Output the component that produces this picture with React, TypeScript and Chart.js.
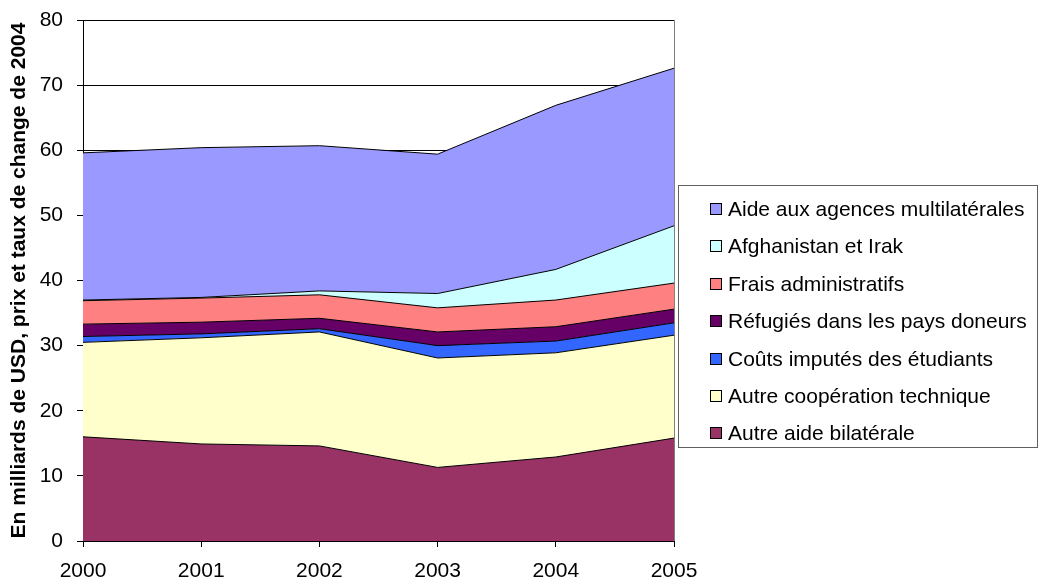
import React, { useEffect, useRef } from "react";
import { Chart, registerables } from "chart.js";

Chart.register(...registerables);

const years = ["2000", "2001", "2002", "2003", "2004", "2005"];
const autreAideBilaterale = [16.0, 14.9, 14.6, 11.3, 12.9, 15.8];
const autreCooperationTechnique = [14.5, 16.3, 17.5, 16.8, 16.0, 15.8];
const coutsImputesEtudiants = [0.9, 0.6, 0.5, 1.9, 1.8, 1.9];
const refugies = [1.9, 1.8, 1.6, 2.1, 2.2, 2.1];
const fraisAdministratifs = [3.6, 3.7, 3.6, 3.7, 4.1, 4.0];
const afghanistanIrak = [0.1, 0.1, 0.6, 2.2, 4.7, 8.8];
const aideMultilaterale = [22.6, 23.0, 22.3, 21.4, 25.2, 24.2];

const yTicks = [0, 10, 20, 30, 40, 50, 60, 70, 80];

const series = [
  { label: "Autre aide bilatérale", data: autreAideBilaterale, color: "#993366" },
  { label: "Autre coopération technique", data: autreCooperationTechnique, color: "#FFFFCC" },
  { label: "Coûts imputés des étudiants", data: coutsImputesEtudiants, color: "#3366FF" },
  { label: "Réfugiés dans les pays doneurs", data: refugies, color: "#660066" },
  { label: "Frais administratifs", data: fraisAdministratifs, color: "#FF8080" },
  { label: "Afghanistan et Irak", data: afghanistanIrak, color: "#CCFFFF" },
  { label: "Aide aux agences multilatérales", data: aideMultilaterale, color: "#9999FF" },
];

const FONT = "'Liberation Sans', Arial, sans-serif";

const borderPlugin = {
  id: "plotBorder",
  afterDatasetsDraw(chart: any) {
    const { ctx, chartArea } = chart;
    ctx.save();
    ctx.strokeStyle = "#808080";
    ctx.lineWidth = 1;
    ctx.beginPath();
    ctx.moveTo(Math.round(chartArea.right) + 0.5, chartArea.top);
    ctx.lineTo(Math.round(chartArea.right) + 0.5, chartArea.bottom);
    ctx.stroke();
    ctx.restore();
  },
};

export default function App() {
  const ref = useRef<HTMLCanvasElement>(null);

  useEffect(() => {
    if (!ref.current) return;
    const chart = new Chart(ref.current, {
      type: "line",
      data: {
        labels: years,
        datasets: series.map((s, i) => ({
          label: s.label,
          data: s.data,
          backgroundColor: s.color,
          borderColor: "#000000",
          borderWidth: 1,
          pointRadius: 0,
          pointHoverRadius: 0,
          tension: 0,
          fill: i === 0 ? "origin" : "-1",
        })),
      },
      plugins: [borderPlugin],
      options: {
        animation: false,
        responsive: false,
        maintainAspectRatio: false,
        layout: { padding: { left: 0, right: 368, top: 20, bottom: 0 } },
        plugins: {
          legend: { display: false },
          tooltip: { enabled: false },
        },
        scales: {
          x: {
            type: "category",
            offset: false,
            afterFit: (scale: any) => {
              scale.height = 39;
              scale.paddingLeft = 0;
              scale.paddingRight = 0;
            },
            grid: {
              display: true,
              drawOnChartArea: false,
              drawTicks: true,
              tickLength: 6,
              color: "#000000",
            },
            border: { display: true, color: "#000000", width: 1 },
            ticks: {
              color: "#000000",
              font: { family: FONT, size: 21 },
              padding: 12,
              maxRotation: 0,
              autoSkip: false,
            },
          },
          y: {
            stacked: true,
            min: 0,
            max: 80,
            afterFit: (scale: any) => {
              scale.width = 83;
              scale.paddingTop = 0;
              scale.paddingBottom = 0;
            },
            afterBuildTicks: (scale: any) => {
              scale.ticks = yTicks.map((v) => ({ value: v }));
            },
            grid: {
              display: true,
              drawOnChartArea: true,
              drawTicks: true,
              tickLength: 6,
              color: "#000000",
            },
            border: { display: true, color: "#000000", width: 1 },
            ticks: {
              color: "#000000",
              font: { family: FONT, size: 21 },
              padding: 14,
            },
            title: {
              display: true,
              text: "En milliards de USD, prix et taux de change de 2004",
              color: "#000000",
              font: { family: FONT, size: 21, weight: "bold" },
              padding: { top: 7, bottom: 0 },
            },
          },
        },
      },
    });
    return () => chart.destroy();
  }, []);

  const legendItems = [...series].reverse();

  return (
    <div
      style={{
        position: "fixed",
        left: 0,
        top: 0,
        width: 1042,
        height: 580,
        background: "#ffffff",
      }}
    >
      <canvas ref={ref} width={1042} height={580} style={{ display: "block" }} />
      <div
        style={{
          position: "absolute",
          left: 678,
          top: 185,
          width: 360,
          height: 263,
          border: "1px solid #606060",
          boxSizing: "border-box",
          fontFamily: FONT,
          fontSize: 21,
          color: "#000",
        }}
      >
        {legendItems.map((s, i) => (
          <div
            key={s.label}
            style={{
              position: "absolute",
              left: 31,
              top: 23 + i * 37.4 - 13,
              height: 26,
              display: "flex",
              alignItems: "center",
              whiteSpace: "nowrap",
            }}
          >
            <span
              style={{
                display: "inline-block",
                width: 12,
                height: 12,
                background: s.color,
                border: "1px solid #000",
                boxSizing: "border-box",
                marginRight: 6,
              }}
            />
            <span>{s.label}</span>
          </div>
        ))}
      </div>
    </div>
  );
}
